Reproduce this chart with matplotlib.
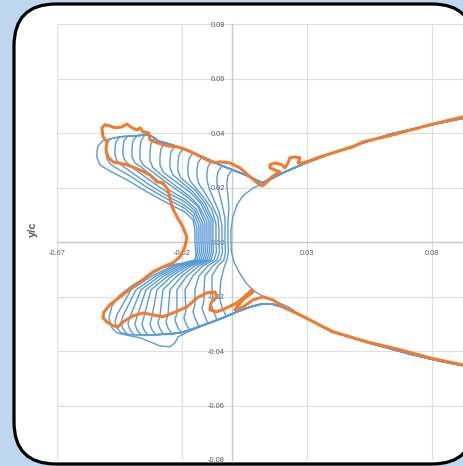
import numpy as np
import matplotlib
matplotlib.use("Agg")
import matplotlib.pyplot as plt
from matplotlib.patches import FancyBboxPatch
from matplotlib.transforms import IdentityTransform
from matplotlib.ticker import FormatStrFormatter

plt.rcParams['font.family'] = ['Liberation Sans', 'DejaVu Sans']
plt.rcParams['axes.unicode_minus'] = False

# === Data (in thousandths of chord: x/c*1000, y/c*1000) ===
# clean upper / lower surface downstream of the ice (shared by all shapes)
upper_tail = [(14.5, 22.9), (21.3, 25.8), (29.7, 29.1), (39.3, 32.4), (51.3, 36.1),
              (64.1, 39.8), (80.1, 43.1), (92.9, 45.6), (115.3, 49.7)]
lower_tail = [(27.3, -26.7), (40.1, -32.9), (56.1, -37.3), (70.9, -41.0),
              (82.9, -43.6), (92.9, -45.4), (115.3, -49.5)]

# top edge of the upper horns and bottom edge of the lower horns (shared)
horn_top = [(-51.5, 37.2), (-48.7, 37.9), (-44.7, 38.7), (-39.5, 39.0), (-33.9, 39.4),
            (-31.5, 38.7), (-29.5, 37.2), (-26.7, 36.5), (-22.7, 35.4), (-16.7, 33.2),
            (-10.7, 31.0), (-4.7, 28.4), (1.3, 26.2), (7.3, 24.0), (10.5, 22.5), (12.5, 21.8)]
horn_bottom = [(-40.7, -34.0), (-36.7, -34.0), (-30.7, -34.0), (-24.7, -33.7), (-20.7, -33.3),
               (-16.7, -32.2), (-9.9, -30.0), (-3.5, -27.8), (2.1, -25.6), (7.3, -23.8),
               (12.1, -22.7), (16.1, -22.7), (21.3, -24.1)]

# ice shapes, outermost first (horn front -> waist -> lower horn)
shape_00 = [(-51.5, 37.2), (-53.5, 35.4), (-53.9, 33.2), (-53.9, 31.0), (-52.7, 28.4), (-49.5, 26.5),
            (-41.9, 22.9), (-33.9, 18.5), (-25.9, 14.4), (-18.7, 11.1), (-15.5, 8.2), (-14.7, 4.5),
            (-14.7, 0.0), (-14.3, -4.7), (-14.7, -6.9), (-17.5, -7.6), (-21.9, -8.0), (-27.5, -9.4),
            (-32.7, -12.0), (-39.5, -15.7), (-44.7, -19.4), (-47.9, -23.4), (-49.1, -27.8),
            (-47.9, -31.5), (-45.9, -33.3), (-40.7, -34.4), (-36.7, -35.1), (-32.7, -36.6),
            (-28.7, -38.1), (-24.7, -38.4), (-22.7, -37.0), (-21.5, -34.8), (-16.7, -32.6)]
shape_01 = [(-48.7, 37.9), (-49.9, 36.1), (-50.3, 34.3), (-50.3, 32.8), (-49.9, 30.6), (-48.7, 28.8),
            (-46.3, 27.3), (-40.7, 24.3), (-33.5, 19.9), (-25.9, 15.9), (-19.1, 12.6), (-15.5, 9.7),
            (-13.9, 5.3), (-13.9, 0.0), (-13.7, -3.6), (-14.7, -6.5), (-23.5, -8.7), (-31.9, -12.4),
            (-40.3, -17.5), (-45.9, -26.7), (-46.7, -29.3), (-45.9, -31.5), (-44.3, -33.3)]
shape_02 = [(-44.7, 38.7), (-46.3, 36.8), (-46.7, 34.6), (-46.7, 32.1), (-45.9, 29.9), (-44.3, 28.4),
            (-40.3, 25.8), (-33.5, 21.4), (-25.9, 17.0), (-19.1, 13.7), (-15.1, 10.8), (-13.1, 6.0),
            (-13.1, 0.0), (-12.9, -3.6), (-13.9, -6.5), (-22.3, -8.7), (-30.3, -12.4), (-38.3, -17.5),
            (-43.5, -27.1), (-44.3, -29.6), (-43.5, -31.8), (-41.9, -33.7)]
shape_03 = [(-41.5, 39.0), (-43.1, 37.2), (-43.5, 34.6), (-43.5, 31.7), (-42.3, 29.5), (-39.5, 27.3),
            (-33.1, 22.9), (-25.5, 18.1), (-18.7, 14.8), (-14.7, 11.5), (-12.3, 6.4), (-12.3, 0.0),
            (-12.1, -3.6), (-13.1, -6.5), (-21.1, -8.7), (-28.7, -12.4), (-36.3, -17.5),
            (-40.7, -27.4), (-41.5, -30.0), (-40.7, -32.2), (-39.1, -34.0)]
shape_04 = [(-37.9, 39.0), (-39.5, 37.2), (-39.9, 34.3), (-39.9, 31.3), (-38.7, 29.1), (-36.3, 27.7),
            (-31.9, 24.3), (-25.1, 19.2), (-18.3, 15.5), (-14.3, 12.2), (-11.5, 6.7), (-11.5, 0.0),
            (-11.3, -3.6), (-12.3, -6.5), (-19.9, -8.7), (-27.1, -12.4), (-34.3, -17.5),
            (-37.9, -27.4), (-38.7, -30.0), (-37.9, -32.2), (-36.3, -34.0)]
shape_05 = [(-34.7, 39.4), (-36.3, 37.2), (-36.7, 33.9), (-36.7, 30.6), (-35.5, 28.4), (-32.7, 26.5),
            (-24.3, 20.7), (-17.9, 16.6), (-13.5, 13.0), (-10.7, 7.1), (-10.7, 0.0), (-10.5, -3.6),
            (-11.5, -6.5), (-18.7, -8.7), (-25.5, -12.4), (-32.3, -17.5), (-35.1, -27.4),
            (-35.9, -30.0), (-35.1, -32.2), (-33.5, -34.0)]
shape_06 = [(-30.7, 38.3), (-32.3, 36.1), (-32.7, 33.2), (-32.7, 29.9), (-31.5, 27.3), (-28.7, 25.1),
            (-23.5, 21.4), (-17.1, 17.0), (-13.1, 13.3), (-9.9, 7.5), (-9.9, 0.0), (-9.7, -3.6),
            (-10.7, -6.5), (-17.5, -8.7), (-23.9, -12.4), (-29.9, -17.5), (-31.9, -27.4),
            (-32.7, -30.0), (-31.9, -32.2), (-30.3, -34.0)]
shape_07 = [(-26.7, 36.5), (-28.3, 34.3), (-28.7, 31.3), (-28.7, 28.4), (-27.5, 25.8), (-23.9, 23.2),
            (-16.3, 18.1), (-12.3, 14.1), (-9.1, 7.8), (-9.1, 0.0), (-8.9, -3.6), (-9.9, -6.5),
            (-16.3, -8.7), (-21.9, -12.4), (-27.5, -17.5), (-28.7, -27.1), (-29.5, -29.6),
            (-28.7, -31.8), (-27.1, -34.0)]
shape_08 = [(-22.7, 35.4), (-24.3, 33.2), (-24.7, 30.2), (-24.7, 27.3), (-23.5, 24.7), (-20.7, 22.5),
            (-15.5, 18.5), (-11.5, 14.1), (-8.3, 8.2), (-8.3, 0.0), (-8.1, -3.6), (-9.1, -6.5),
            (-14.7, -8.7), (-19.9, -12.4), (-24.7, -17.5), (-25.5, -26.7), (-26.3, -29.3),
            (-25.5, -31.5), (-23.9, -33.7)]
shape_09 = [(-19.5, 34.3), (-21.1, 32.1), (-21.5, 29.1), (-21.5, 26.2), (-20.3, 23.6), (-17.5, 21.4),
            (-14.3, 18.8), (-10.7, 14.4), (-7.5, 8.2), (-7.5, 0.0), (-7.3, -3.6), (-8.3, -6.5),
            (-13.1, -8.7), (-17.9, -12.4), (-21.9, -17.5), (-21.9, -26.0), (-22.7, -28.5),
            (-21.9, -30.7), (-20.3, -33.3)]
shape_10 = [(-15.5, 32.8), (-17.1, 30.6), (-17.5, 27.7), (-17.5, 25.1), (-16.7, 22.5), (-14.3, 19.9),
            (-11.1, 16.3), (-7.9, 11.9), (-6.3, 6.7), (-6.3, 0.0), (-6.1, -3.6), (-7.1, -6.5),
            (-11.5, -8.7), (-15.5, -12.4), (-18.7, -17.5), (-18.3, -25.2), (-19.1, -27.8),
            (-18.3, -30.0), (-16.7, -32.6)]
shape_11 = [(-11.9, 31.3), (-13.5, 29.1), (-13.9, 26.5), (-13.9, 24.0), (-13.1, 21.4), (-10.7, 18.1),
            (-7.9, 13.7), (-5.5, 8.9), (-5.1, 4.5), (-5.1, 0.0), (-4.9, -3.6), (-5.9, -6.5),
            (-9.5, -8.7), (-13.1, -12.4), (-14.7, -17.5), (-14.7, -23.0), (-15.5, -25.6),
            (-14.7, -27.8), (-13.1, -31.1)]
shape_12 = [(-7.9, 29.9), (-9.5, 27.7), (-9.9, 25.4), (-9.9, 22.9), (-9.1, 19.9), (-7.1, 15.5),
            (-5.1, 11.1), (-3.9, 6.0), (-3.9, 0.0), (-3.7, -3.6), (-4.7, -6.5), (-7.5, -8.7),
            (-10.7, -12.4), (-11.1, -17.5), (-11.1, -21.6), (-11.9, -24.1), (-11.1, -26.3), (-9.5, -30.0)]
shape_13 = [(-3.9, 28.0), (-5.5, 25.8), (-5.9, 23.6), (-5.9, 21.4), (-5.1, 18.5), (-3.9, 14.1),
            (-2.7, 8.9), (-2.7, 0.0), (-2.5, -3.6), (-3.1, -6.5), (-5.5, -8.7), (-7.9, -12.4),
            (-7.9, -17.5), (-7.5, -20.1), (-8.3, -22.7), (-7.5, -24.9), (-5.9, -28.5)]
shape_14 = [(0.1, 26.5), (-1.5, 24.3), (-1.9, 22.1), (-1.9, 19.9), (-1.5, 17.0), (-1.1, 12.6),
            (-1.5, 7.5), (-1.5, 0.0), (-1.3, -3.6), (-1.9, -6.5), (-3.1, -9.4), (-4.3, -13.8),
            (-4.7, -18.3), (-4.7, -21.2), (-3.9, -23.8), (-2.3, -27.1)]
# innermost shape leaves the clean surface directly
shape_15 = [(19.3, 24.7), (16.1, 23.2), (12.1, 21.4), (8.1, 19.6), (4.5, 17.0), (2.1, 13.7),
            (0.5, 9.3), (-0.3, 4.5), (-0.3, 0.0), (-0.1, -3.6), (0.9, -7.2), (2.9, -10.9),
            (5.7, -15.0), (8.9, -17.9), (12.1, -19.7), (17.3, -21.6), (23.3, -24.1)]

horn_shapes = [shape_00, shape_01, shape_02, shape_03, shape_04, shape_05, shape_06, shape_07,
               shape_08, shape_09, shape_10, shape_11, shape_12, shape_13, shape_14]

# final (measured) ice shape
orange_shape = [(115.3, 50.0), (92.5, 46.0), (79.3, 43.1), (64.5, 39.4), (52.5, 36.8), (48.5, 35.0),
                (40.5, 32.8), (35.3, 31.3), (31.3, 29.9), (28.5, 29.1), (26.5, 29.1), (27.3, 31.0),
                (25.3, 31.3), (23.3, 31.0), (22.5, 29.1), (21.3, 27.3), (20.1, 28.4), (17.3, 29.1),
                (15.3, 28.4), (15.3, 27.3), (17.3, 26.5), (19.3, 25.8), (18.5, 25.4), (16.1, 24.0),
                (14.1, 22.1), (12.5, 20.7), (11.3, 21.0), (7.3, 24.0), (3.3, 27.3), (-0.7, 29.1),
                (-4.7, 29.5), (-6.7, 29.1), (-9.9, 30.2), (-13.9, 32.1), (-17.9, 33.9), (-21.9, 35.0),
                (-25.9, 35.4), (-29.9, 36.5), (-32.7, 37.6), (-33.1, 40.1), (-35.5, 40.5), (-36.7, 42.0),
                (-37.9, 41.2), (-39.9, 42.0), (-41.9, 43.4), (-43.9, 42.3), (-46.7, 42.0), (-48.7, 42.7),
                (-50.7, 43.1), (-51.9, 42.0), (-51.5, 38.7), (-49.9, 36.8), (-50.3, 33.9), (-49.5, 31.3),
                (-47.5, 29.5), (-41.9, 28.4), (-36.7, 26.5), (-32.7, 24.7), (-29.9, 22.1), (-27.5, 21.8),
                (-25.5, 19.2), (-23.9, 13.0), (-21.9, 9.3), (-19.5, 5.6), (-17.9, 1.9), (-18.7, -1.7),
                (-20.7, -5.4), (-23.5, -7.6), (-27.5, -9.1), (-31.5, -10.9), (-35.5, -13.8),
                (-39.5, -16.4), (-44.7, -20.1), (-48.7, -23.0), (-51.1, -25.6), (-51.5, -27.8),
                (-49.9, -29.3), (-47.5, -30.7), (-45.5, -31.1), (-43.5, -29.3), (-39.5, -27.1),
                (-35.5, -26.0), (-31.5, -26.7), (-27.5, -27.4), (-23.5, -26.0), (-17.9, -23.8),
                (-13.9, -20.5), (-9.9, -18.6), (-6.7, -18.3), (-5.9, -20.1), (-8.3, -22.3), (-8.7, -24.9),
                (-5.9, -25.6), (-1.9, -24.1), (2.1, -22.3), (4.5, -20.5), (8.1, -17.5), (8.5, -18.3),
                (4.5, -21.2), (2.1, -23.8), (1.3, -24.9), (4.5, -23.8), (8.5, -21.2), (12.5, -20.1),
                (16.5, -21.2), (20.5, -23.8), (27.3, -26.7), (40.5, -32.9), (54.1, -36.6), (67.3, -39.5),
                (79.3, -42.5), (92.5, -45.1), (115.3, -49.1)]

x_ticks = [-0.07, -0.02, 0.03, 0.08]
y_ticks = [-0.08, -0.06, -0.04, -0.02, 0.0, 0.02, 0.04, 0.06, 0.08]


def full_outline(shape, inner=False):
    # clean upper surface -> ice shape -> clean lower surface
    x_first, x_last = shape[0][0], shape[-1][0]
    if inner:
        top = [p for p in upper_tail if p[0] > x_first][::-1]
        bottom = [p for p in lower_tail if p[0] > x_last]
    else:
        top = upper_tail[::-1] + [p for p in horn_top if p[0] > x_first][::-1]
        bottom = [p for p in horn_bottom if p[0] > x_last] + lower_tail
    pts = np.array(top + shape + bottom) / 1000.0
    return pts[:, 0], pts[:, 1]


# === Figure ===
fig = plt.figure(figsize=(4.64, 4.66), dpi=100)
fig.patch.set_facecolor('#bfd7ee')

panel = FancyBboxPatch((14, 2), 460, 460, boxstyle="round,pad=0,rounding_size=42",
                       transform=IdentityTransform(), facecolor='white',
                       edgecolor='black', linewidth=2.3, zorder=0)
fig.add_artist(panel)

ax = fig.add_axes([56.7 / 464, 6 / 466, 500 / 464, 435.7 / 466])
ax.set_facecolor('none')
ax.set_xlim(-0.07, 0.13)
ax.set_ylim(-0.08, 0.08)

for shp in horn_shapes:
    xs, ys = full_outline(shp)
    ax.plot(xs, ys, color='#5b9bd5', lw=1.0, solid_joinstyle='round', zorder=3)
xs, ys = full_outline(shape_15, inner=True)
ax.plot(xs, ys, color='#5b9bd5', lw=1.0, solid_joinstyle='round', zorder=3)

ox = np.array([p[0] for p in orange_shape]) / 1000.0
oy = np.array([p[1] for p in orange_shape]) / 1000.0
ax.plot(ox, oy, color='#ed7d31', lw=2.2, solid_joinstyle='round', solid_capstyle='round', zorder=4)

# axes crossing at the origin, Excel style
for side in ['top', 'right']:
    ax.spines[side].set_visible(False)
ax.spines['left'].set_position(('data', 0))
ax.spines['bottom'].set_position(('data', 0))
for side in ['left', 'bottom']:
    ax.spines[side].set_color('#c9c9c9')
    ax.spines[side].set_linewidth(1.0)

ax.set_xticks(x_ticks)
ax.set_yticks(y_ticks)
ax.xaxis.set_major_formatter(FormatStrFormatter('%.2f'))
ax.yaxis.set_major_formatter(FormatStrFormatter('%.2f'))
ax.tick_params(length=0, labelsize=5.3, labelcolor='#595959')
ax.tick_params(axis='y', pad=5)
ax.tick_params(axis='x', pad=6)
ax.grid(True, color='#dedede', lw=0.8)
ax.set_axisbelow(True)

fig.text(33 / 464, 1 - 229 / 466, 'y/c', rotation=90, ha='center', va='center',
         fontsize=8, fontweight='bold', color='#595959')

fig.savefig('out.png', dpi=100, facecolor=fig.get_facecolor())
